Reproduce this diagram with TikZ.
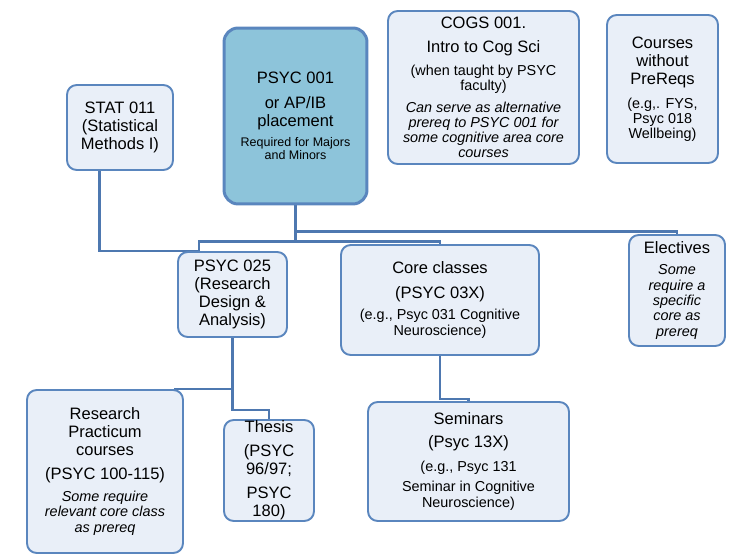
\documentclass[tikz,border=0pt]{standalone}
\usepackage{fontspec}
\setmainfont{Liberation Sans}
\usepackage{xcolor}
\usepackage{tikz}
\usetikzlibrary{positioning, calc, backgrounds}
\definecolor{boxfill}{HTML}{E9EFF8}
\definecolor{boxline}{HTML}{5A86BE}
\definecolor{mainfill}{HTML}{8DC4DA}
\definecolor{linkblue}{HTML}{4E78B0}
\newcommand{\bigtxt}{\fontsize{9.4}{10.2}\selectfont}
\newcommand{\smtxt}{\fontsize{8.2}{8.8}\selectfont}
\newcommand{\smit}{\smtxt\itshape}
\newcommand{\tinytxt}{\fontsize{7.1}{7.6}\selectfont}

\begin{document}
\begin{tikzpicture}[
  x=0.02cm, y=-0.02cm,
  course/.style={rectangle, rounded corners=5.5pt, draw=boxline, line width=1.1pt,
                 fill=boxfill, align=center, inner sep=0pt, font=\bigtxt},
  entry/.style={course, fill=mainfill, line width=1.7pt, rounded corners=8pt},
  link/.style={draw=linkblue, line width=1.4pt},
]
\useasboundingbox (0,0) rectangle (750,560);
% ---------------- top row
\node[course, minimum width=2.12cm, minimum height=1.70cm] (stat) at (120,127.5)
      {STAT 011\\(Statistical\\Methods I)};
\node[entry, minimum width=2.86cm, minimum height=3.52cm] (psyc1) at (295.5,116)
      {PSYC 001\\[3.6pt]or AP/IB\\placement\\[1.2pt]{\tinytxt Required for Majors}\\[-2.6pt]{\tinytxt and Minors}};
\node[course, minimum width=3.82cm, minimum height=3.06cm] (cogs) at (483.5,87.5)
      {COGS 001.\\[3.5pt]Intro to Cog Sci\\[2.9pt]{\smtxt (when taught by PSYC}\\[-1.7pt]{\smtxt faculty)}\\[2.3pt]%
       {\smit Can serve as alternative}\\[-1.7pt]{\smit prereq to PSYC 001 for}\\[-1.7pt]{\smit some cognitive area core}\\[-1.7pt]{\smit courses}};
\node[course, minimum width=2.22cm, minimum height=2.96cm] (noprereq) at (662.5,89)
      {Courses\\without\\PreReqs\\[3.6pt]{\smtxt (e.g,. FYS,}\\[-1.8pt]{\smtxt Psyc 018}\\[-1.8pt]{\smtxt Wellbeing)}};
% ---------------- middle row
\node[course, minimum width=2.18cm, minimum height=1.70cm] (psyc25) at (232.5,294.5)
      {PSYC 025\\(Research\\Design \&\\Analysis)};
\node[course, minimum width=3.96cm, minimum height=2.20cm] (core) at (440,300)
      {Core classes\\[4pt](PSYC 03X)\\[1.8pt]{\smtxt (e.g., Psyc 031 Cognitive}\\[-1.1pt]{\smtxt Neuroscience)}};
\node[course, minimum width=1.92cm, minimum height=2.22cm] (elect) at (677,290.5)
      {Electives\\[1.8pt]{\smit Some}\\[-1.4pt]{\smit require a}\\[-1.4pt]{\smit specific}\\[-1.4pt]{\smit core as}\\[-1.4pt]{\smit prereq}};
% ---------------- bottom row
\node[course, minimum width=3.12cm, minimum height=3.26cm] (practicum) at (105,471.5)
      {Research\\Practicum\\courses\\[3.5pt](PSYC 100-115)\\[2.3pt]{\smit Some require}\\[-1.4pt]{\smit relevant core class}\\[-1.4pt]{\smit as prereq}};
\node[course, minimum width=1.80cm, minimum height=2.02cm] (thesis) at (269,470.5)
      {Thesis\\[3.5pt](PSYC\\96/97;\\[3.5pt]PSYC\\180)};
\node[course, minimum width=4.02cm, minimum height=2.38cm] (seminar) at (468.5,461.5)
      {Seminars\\[2.9pt](Psyc 13X)\\[2.9pt]{\smtxt (e.g., Psyc 131}\\[1.2pt]{\smtxt Seminar in Cognitive}\\[-1.1pt]{\smtxt Neuroscience)}};
% ---------------- connectors
\coordinate (statout) at ($(stat.south west)!0.31!(stat.south east)$);
\coordinate (p25in) at ($(psyc25.north west)!0.2!(psyc25.north east)$);
\coordinate (pracin) at ($(practicum.north west)!0.94!(practicum.north east)$);
\begin{scope}[on background layer]
  \draw[link] (psyc1.south) -- ++(0,26) -| (elect.north);
  \draw[link] (psyc1.south) -- ++(0,36) -| (core.north);
  \draw[link] (psyc1.south) -- ++(0,36) -| (p25in);
  \draw[link] (statout) |- (p25in);
  \draw[link] (psyc25.south) |- (pracin);
  \draw[link] (psyc25.south) -- ++(0,72) -| (thesis.north);
  \draw[link] (core.south) -- ++(0,43) -| (seminar.north);
\end{scope}
\end{tikzpicture}
\end{document}
